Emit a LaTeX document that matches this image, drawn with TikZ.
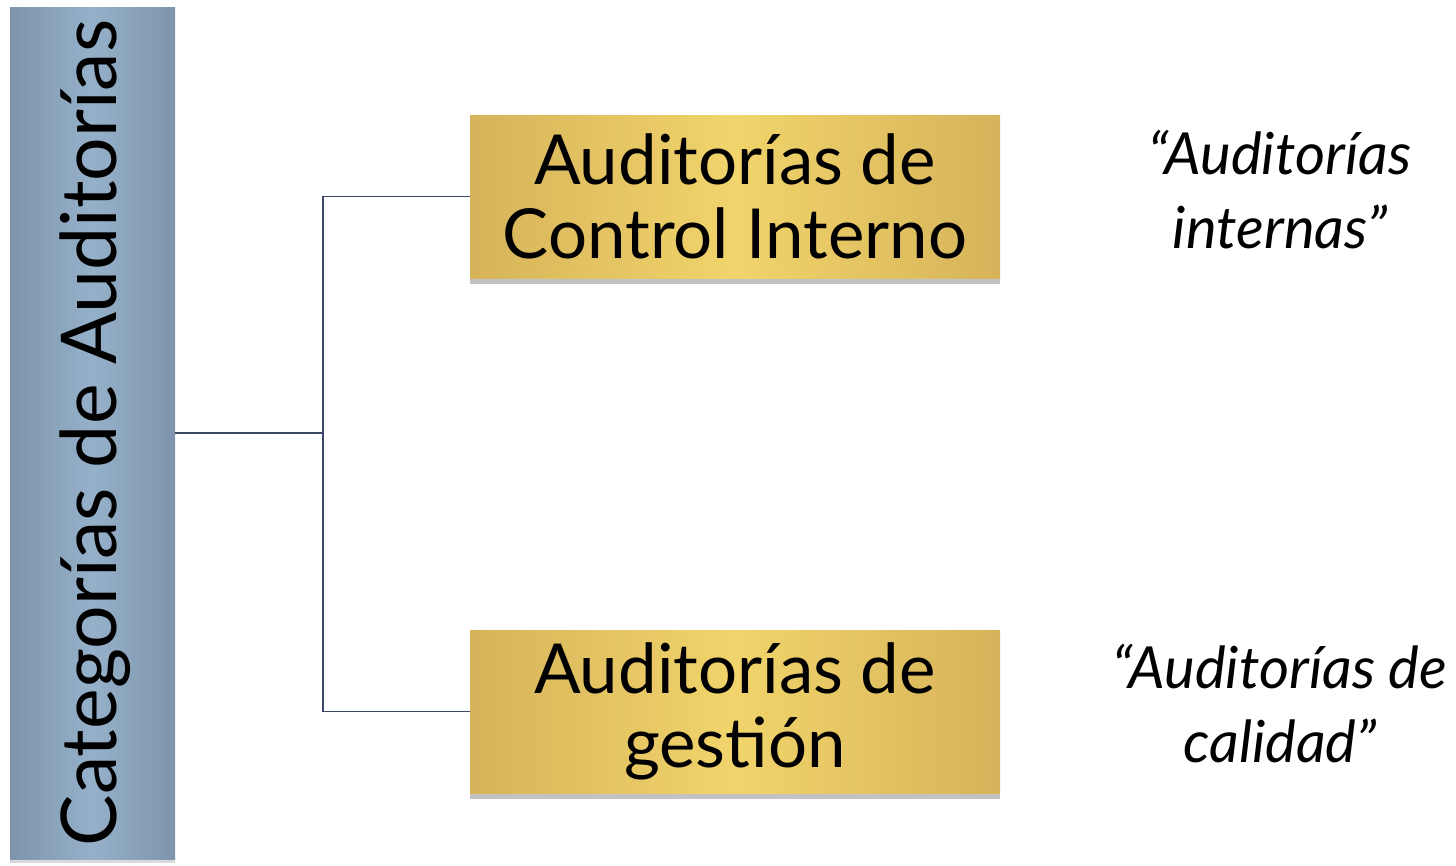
\documentclass[tikz,border=0pt]{standalone}
\usepackage{fontspec}
\setmainfont{Lato}
\usetikzlibrary{shadows}

\definecolor{barmid}{HTML}{95B1C9}
\definecolor{baredge}{HTML}{7D94AC}
\definecolor{goldmid}{HTML}{F1D46B}
\definecolor{goldedge}{HTML}{D6B35A}
\definecolor{linkcol}{HTML}{3C4868}

\tikzset{
    barbox/.style={rectangle, minimum width=165pt, minimum height=852pt, inner sep=0pt,
        left color=baredge, right color=baredge, middle color=barmid,
        drop shadow={shadow xshift=0pt, shadow yshift=-4pt, opacity=0.3, fill=black!50}},
    goldbox/.style={rectangle, minimum width=530pt, minimum height=163pt, inner sep=0pt,
        left color=goldedge, right color=goldedge, middle color=goldmid,
        align=center, font=\fontsize{69}{74}\selectfont,
        drop shadow={shadow xshift=0pt, shadow yshift=-6pt, opacity=0.4, fill=black!60}},
    quote/.style={align=center, font=\fontsize{58}{74}\selectfont\itshape},
    link/.style={draw=linkcol, line width=1.4pt}
}

\begin{document}
\begin{tikzpicture}[x=1pt, y=-1pt]
    \useasboundingbox (0,0) rectangle (1456,865);
    % left bar
    \node[barbox] (cat) at (92.5,433) {};
    \node[rotate=90, font=\fontsize{77}{80}\selectfont, anchor=center] (catlabel) at (95,433) {Categorías de Auditorías};
    % boxes
    \node[goldbox] (ctrl) at (735,196.5) {Auditorías de\\Control Interno};
    \node[goldbox] (gest) at (735,711.5) {Auditorías de\\gestión};
    % connectors
    \coordinate (fork) at (323,433);
    \draw[link] (cat.east) -- (fork);
    \draw[link] (fork) |- (ctrl.west);
    \draw[link] (fork) |- (gest.west);
    % notes
    \node[quote] (ctrlnote) at (1280,190) {“Auditorías\\internas”};
    \node[quote] (gestnote) at (1280,704) {“Auditorías de\\calidad”};
\end{tikzpicture}
\end{document}
